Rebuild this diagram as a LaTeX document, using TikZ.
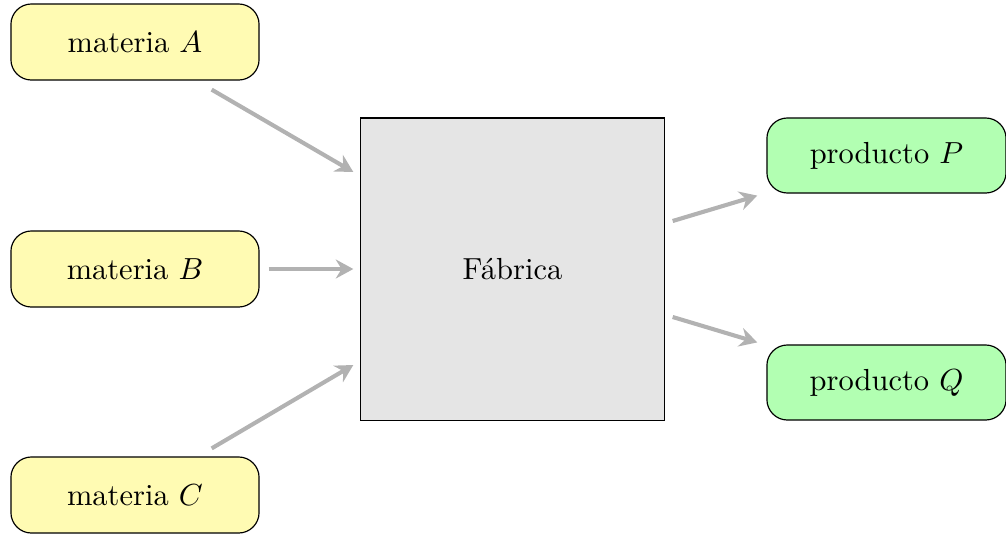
\documentclass[tikz,border=0pt]{standalone}
\usepackage{graphicx}
\usetikzlibrary{arrows.meta,calc}
\newcommand\mylbl[1]{\scalebox{1.04}{#1}}
\begin{document}
\begin{tikzpicture}[x=0.012cm,y=-0.012cm,
  matbox/.style={draw=black, fill=yellow!30, rounded corners=7pt, minimum width=2.976cm, minimum height=0.912cm, inner sep=0pt},
  prodbox/.style={draw=black, fill=green!30, rounded corners=7pt, minimum width=2.868cm, minimum height=0.9cm, inner sep=0pt},
  factory/.style={draw=black, fill=gray!20, minimum width=3.636cm, minimum height=3.624cm, inner sep=0pt},
  flow/.style={draw=gray!60, line width=1.4pt, -{Stealth[length=6pt, width=6.5pt, inset=2pt]}}]
\useasboundingbox (0,0) rectangle (1006,533);
\node[matbox] (A) at (135,42) {\mylbl{materia $A$}};
\node[matbox] (B) at (135,269) {\mylbl{materia $B$}};
\node[matbox] (C) at (135,495) {\mylbl{materia $C$}};
\node[factory] (F) at (512.5,269) {\mylbl{Fábrica}};
\node[prodbox] (P) at (886.5,155.5) {\mylbl{producto $P$}};
\node[prodbox] (Q) at (886.5,382.5) {\mylbl{producto $Q$}};
\draw[flow] ($(A.south east)+(-48,9)$) -- ($(F.west)+(-7,-97)$);
\draw[flow] ($(B.east)+(9,0)$) -- ($(F.west)+(-7,0)$);
\draw[flow] ($(C.north east)+(-48,-8)$) -- ($(F.west)+(-7,96)$);
\draw[flow] ($(F.east)+(8,-48)$) -- ($(P.south west)+(-9,2)$);
\draw[flow] ($(F.east)+(8,48)$) -- ($(Q.north west)+(-9,-2)$);
\end{tikzpicture}
\end{document}
